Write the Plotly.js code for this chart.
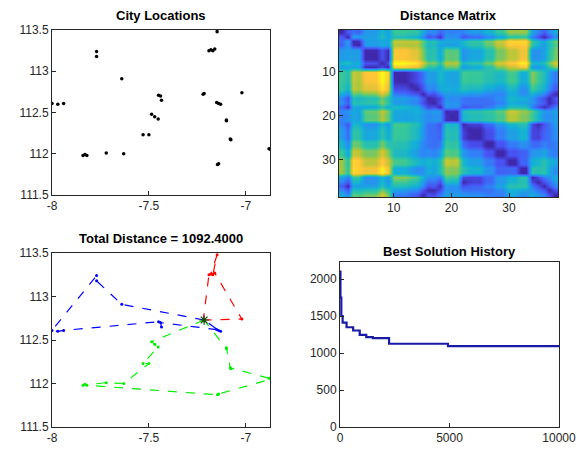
<!DOCTYPE html>
<html>
<head>
<meta charset="utf-8">
<script src="https://cdn.plot.ly/plotly-3.0.1.min.js"></script>
<style>html,body{margin:0;padding:0;background:#fff;}#chart{width:577px;height:455px;}</style>
</head>
<body>
<div id="chart"></div>
<script>
// City coordinates (x axis = latitude, y axis = longitude)
const cityLat = [-7.64, -7.45, -7.77, -7.77, -7.19, -7.17, -7.18, -7.148, -7.16, -7.84,
                 -7.82, -7.83, -7.72, -7.63, -7.53, -7.486, -7.452, -7.435, -8.0, -7.94,
                 -7.97, -7.215, -7.15, -7.13, -7.14, -7.10, -7.10, -7.077, -7.08, -6.87,
                 -6.88, -7.146, -7.14, -7.02, -7.22, -7.44, -7.47, -7.50];
const cityLon = [112.91, 112.71, 113.24, 113.18, 113.25, 113.25, 113.26, 113.48, 113.27, 111.98,
                 111.98, 111.99, 112.01, 112.00, 112.23, 112.48, 112.42, 112.65, 112.61, 112.61,
                 112.60, 112.73, 112.62, 112.60, 112.61, 112.41, 112.40, 112.17, 112.18, 112.05,
                 112.06, 111.87, 111.88, 112.74, 112.72, 112.70, 112.45, 112.23];
// Routes (1-based city indices), depot = city 22
const depotIdx = 22;
const routeBlue  = [22, 1, 4, 3, 19, 21, 20, 2, 18, 36, 23, 24, 25, 22];
const routeRed   = [22, 35, 5, 6, 8, 7, 9, 34, 22];
const routeGreen = [22, 16, 37, 17, 15, 38, 14, 13, 10, 12, 11, 32, 33, 30, 31, 28, 29, 26, 27, 22];
const totalDistance = 1092.4;
// Best solution history
const histIter = [1, 20, 60, 120, 300, 600, 900, 1200, 1500, 2240, 4930, 10000];
const histBest = [2100, 1750, 1500, 1411, 1348, 1304, 1246, 1214, 1200, 1125, 1092.4, 1092.4];
// Tick labels
const coordTickVals = [111.5, 112, 112.5, 113, 113.5];
const coordTickText = ['111.5', '112', '112.5', '113', '113.5'];
const latTickVals = [-8, -7.5, -7];
const latTickText = ['-8', '-7.5', '-7'];
const histTickVals = [0, 5000, 10000];
const histTickText = ['0', '5000', '10000'];

// Distance matrix derived from the city coordinates (haversine, km)
function hav(i, j) {
  const R = 6371, rad = Math.PI / 180;
  const dLat = (cityLat[j] - cityLat[i]) * rad, dLon = (cityLon[j] - cityLon[i]) * rad;
  const a = Math.sin(dLat/2)**2 + Math.cos(cityLat[i]*rad)*Math.cos(cityLat[j]*rad)*Math.sin(dLon/2)**2;
  return 2 * R * Math.asin(Math.sqrt(a));
}
const N = cityLat.length;
const distMatrix = [];
for (let i = 0; i < N; i++) { const row = []; for (let j = 0; j < N; j++) row.push(hav(i, j)); distMatrix.push(row); }
const idxs = Array.from({length: N}, (_, k) => k + 1);

const parula = [
  [0, 'rgb(62,38,168)'], [1/7, 'rgb(72,82,244)'], [2/7, 'rgb(46,135,247)'],
  [3/7, 'rgb(18,177,214)'], [4/7, 'rgb(55,200,151)'], [5/7, 'rgb(171,199,57)'],
  [6/7, 'rgb(254,195,56)'], [1, 'rgb(249,251,21)']
];

function pick(route, arr) { return route.map(k => arr[k - 1]); }

const FAM = 'Liberation Sans, Arial, sans-serif';
const F = {family: FAM, size: 12, color: '#262626'};
const axBase = {showgrid: false, zeroline: false, showline: true, linecolor: '#262626', linewidth: 1,
  mirror: true, ticks: 'inside', ticklen: 4, tickcolor: '#262626', tickfont: F};

const traces = [
  {type: 'scatter', mode: 'markers', x: cityLat, y: cityLon, xaxis: 'x', yaxis: 'y',
   marker: {color: '#000', size: 3.5}, hoverinfo: 'skip'},
  {type: 'heatmap', z: distMatrix, x: idxs, y: idxs, xaxis: 'x2', yaxis: 'y2',
   colorscale: parula, showscale: false, zsmooth: 'best'},
  {type: 'scatter', mode: 'lines+markers', x: pick(routeBlue, cityLat), y: pick(routeBlue, cityLon),
   xaxis: 'x3', yaxis: 'y3', line: {color: '#0000ff', width: 1.2, dash: 'dash'}, marker: {size: 3, color: '#0000ff'}},
  {type: 'scatter', mode: 'lines+markers', x: pick(routeRed, cityLat), y: pick(routeRed, cityLon),
   xaxis: 'x3', yaxis: 'y3', line: {color: '#ff0000', width: 1.2, dash: 'dash'}, marker: {size: 3, color: '#ff0000'}},
  {type: 'scatter', mode: 'lines+markers', x: pick(routeGreen, cityLat), y: pick(routeGreen, cityLon),
   xaxis: 'x3', yaxis: 'y3', line: {color: '#00ee00', width: 1.2, dash: 'dash'}, marker: {size: 3, color: '#00ee00'}},
  {type: 'scatter', mode: 'markers', x: [cityLat[depotIdx - 1]], y: [cityLon[depotIdx - 1]],
   xaxis: 'x3', yaxis: 'y3', marker: {symbol: 'asterisk-open', size: 8, color: '#114411', line: {width: 1.2, color: '#114411'}}},
  {type: 'scatter', mode: 'lines', x: histIter, y: histBest, xaxis: 'x4', yaxis: 'y4',
   line: {color: '#1a1aa8', width: 2.2, shape: 'hv'}}
];

const W = 577, H = 455;
const dx = (a, b) => [a / W, b / W];
const dy = (top, bot) => [1 - bot / H, 1 - top / H];
const titleFont = {family: FAM, size: 13, color: '#000'};
function title(txt, cx, cy) {
  return {text: '<b>' + txt + '</b>', x: cx / W, y: 1 - cy / H, xref: 'paper', yref: 'paper',
    xanchor: 'center', yanchor: 'middle', showarrow: false, font: titleFont};
}

const layout = {
  width: W, height: H, margin: {l: 0, r: 0, t: 0, b: 0}, showlegend: false,
  paper_bgcolor: '#fff', plot_bgcolor: '#fff',
  xaxis: Object.assign({}, axBase, {domain: dx(52, 270), range: [-8, -6.875], tickvals: latTickVals, ticktext: latTickText, anchor: 'y'}),
  yaxis: Object.assign({}, axBase, {domain: dy(30, 195), range: [111.5, 113.5], tickvals: coordTickVals, ticktext: coordTickText, anchor: 'x'}),
  xaxis2: Object.assign({}, axBase, {domain: dx(339, 558), range: [0.5, N + 0.5], tickvals: [10, 20, 30], anchor: 'y2'}),
  yaxis2: Object.assign({}, axBase, {domain: dy(30, 197), range: [N + 0.5, 0.5], tickvals: [10, 20, 30], anchor: 'x2'}),
  xaxis3: Object.assign({}, axBase, {domain: dx(52, 270), range: [-8, -6.875], tickvals: latTickVals, ticktext: latTickText, anchor: 'y3'}),
  yaxis3: Object.assign({}, axBase, {domain: dy(253, 427), range: [111.5, 113.5], tickvals: coordTickVals, ticktext: coordTickText, anchor: 'x3'}),
  xaxis4: Object.assign({}, axBase, {domain: dx(340, 559), range: [0, 10000], tickvals: histTickVals, ticktext: histTickText, anchor: 'y4'}),
  yaxis4: Object.assign({}, axBase, {domain: dy(262, 427), range: [0, 2230], tickvals: [0, 500, 1000, 1500, 2000], anchor: 'x4'}),
  annotations: [
    title('City Locations', 161, 16),
    title('Distance Matrix', 448, 16),
    title('Total Distance = ' + totalDistance.toFixed(4), 161, 238),
    title('Best Solution History', 449, 251)
  ]
};

Plotly.newPlot('chart', traces, layout, {staticPlot: true, displayModeBar: false});
</script>
</body>
</html>
